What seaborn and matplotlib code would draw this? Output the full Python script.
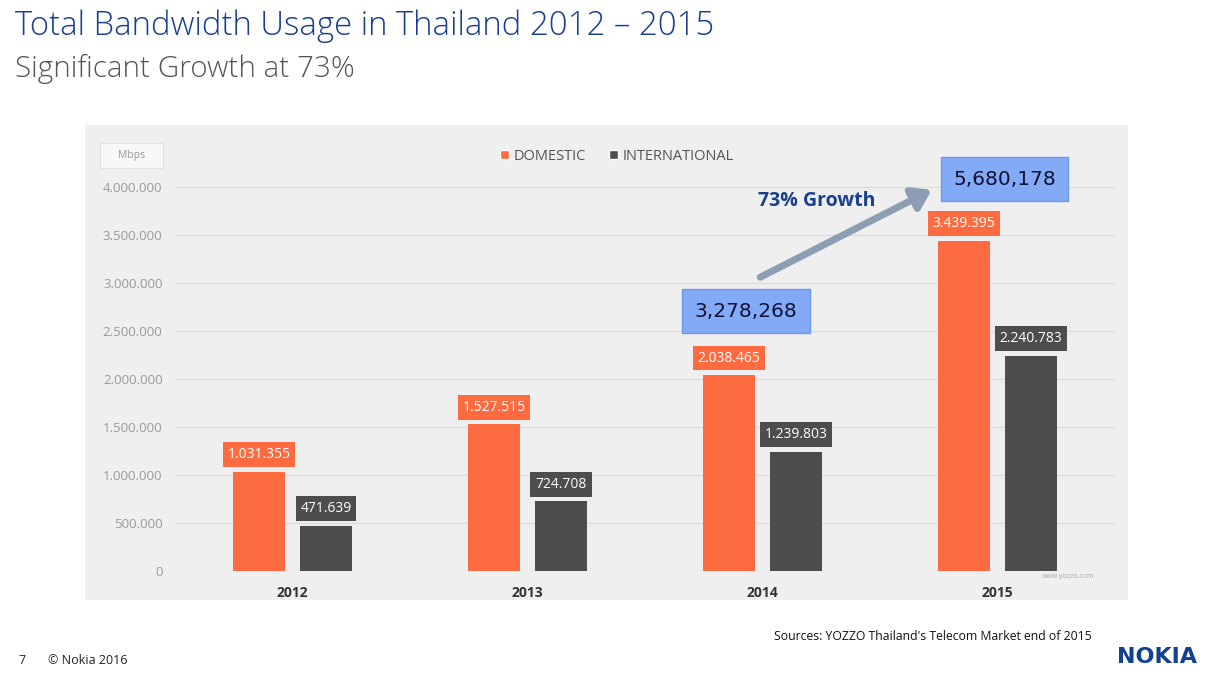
import matplotlib
matplotlib.use("Agg")
import matplotlib.pyplot as plt
import seaborn as sns
import pandas as pd
from matplotlib.patches import Rectangle, Patch
from matplotlib.ticker import FuncFormatter

years = ["2012", "2013", "2014", "2015"]
domestic = [1031355, 1527515, 2038465, 3439395]
international = [471639, 724708, 1239803, 2240783]
series_names = ["DOMESTIC", "INTERNATIONAL"]
y_ticks = [0, 500000, 1000000, 1500000, 2000000, 2500000, 3000000, 3500000, 4000000]
growth_label = "73% Growth"

ORANGE = "#ff6b40"
DARK = "#4d4d4d"
NAVY = "#1a3f8f"

df = pd.DataFrame({
    "year": years * 2,
    "value": domestic + international,
    "type": [series_names[0]] * 4 + [series_names[1]] * 4,
})

sns.set_theme(style="white")
plt.rcParams["font.family"] = ["Open Sans", "DejaVu Sans"]

fig = plt.figure(figsize=(12.14, 6.77), dpi=100)
fig.patch.set_facecolor("white")

# chart panel background
fig.patches.append(Rectangle((85 / 1214, 1 - 600 / 677), (1128 - 85) / 1214, (600 - 125) / 677,
                             transform=fig.transFigure, facecolor="#efefef", edgecolor="none", zorder=-10))
# Mbps box
fig.patches.append(Rectangle((100 / 1214, 1 - 168 / 677), 63 / 1214, 25 / 677,
                             transform=fig.transFigure, facecolor="#f8f8f8", edgecolor="#e2e2e2",
                             lw=0.8, zorder=-5))
fig.text(131.5 / 1214, 1 - 155.5 / 677, "Mbps", ha="center", va="center", fontsize=7.5, color="#999999")

ax = fig.add_axes([175 / 1214, (677 - 571) / 677, 940 / 1214, 431 / 677])
ax.set_facecolor("none")

sns.barplot(data=df, x="year", y="value", hue="type", palette=[ORANGE, DARK],
            width=0.57, gap=0.23, saturation=1, legend=False, ax=ax, zorder=3,
            linewidth=0, edgecolor="none")

ax.set_xlim(-0.5, 3.5)
ax.set_ylim(0, 4.49e6)
ax.set_yticks(y_ticks)
ax.yaxis.set_major_formatter(FuncFormatter(lambda v, p: f"{int(v):,}".replace(",", ".")))
ax.grid(axis="y", color="#dddddd", lw=1, zorder=0)
ax.set_axisbelow(True)
for s in ax.spines.values():
    s.set_visible(False)
ax.tick_params(axis="y", length=0, pad=9, labelsize=9.5, labelcolor="#9a9a9a")
ax.tick_params(axis="x", length=0, pad=11, labelsize=10, labelcolor="#333333")
for t in ax.get_xticklabels():
    t.set_fontweight("bold")
ax.set_xlabel("")
ax.set_ylabel("")

# value labels
for cont, col in zip(ax.containers, [ORANGE, DARK]):
    for bar in cont:
        h = bar.get_height()
        cx = bar.get_x() + bar.get_width() / 2
        ax.annotate(f"{int(h):,}".replace(",", "."), xy=(cx, h), xytext=(0, 7),
                    textcoords="offset points", ha="center", va="bottom",
                    fontsize=10, color="white", zorder=5,
                    bbox=dict(boxstyle="square,pad=0.35", facecolor=col, edgecolor="none"))

# totals boxes
tot14 = domestic[2] + international[2]
tot15 = domestic[3] + international[3]
box = dict(boxstyle="square,pad=0.62", facecolor="#82aaf7", edgecolor="#6f98ea", lw=1)
ax.text(1.93, 2.708e6, f"{tot14:,}", ha="center", va="center", fontsize=14.5,
        color="#111133", bbox=box, zorder=6, family=["DejaVu Sans"])
ax.text(3.03, 4.083e6, f"{tot15:,}", ha="center", va="center", fontsize=14.5,
        color="#111133", bbox=box, zorder=6, family=["DejaVu Sans"])
ax.annotate("", xy=(2.72, 3.97e6), xytext=(1.99, 3.06e6),
            arrowprops=dict(arrowstyle="-|>,head_length=0.9,head_width=0.6", color="#8d9db3",
                            lw=5, shrinkA=0, shrinkB=0), zorder=6)
ax.text(2.23, 3.85e6, growth_label, ha="center", va="center", fontsize=14,
        fontweight="bold", color=NAVY, zorder=6)

# legend
handles = [Patch(facecolor=ORANGE), Patch(facecolor=DARK)]
fig.legend(handles, series_names, loc="center", bbox_to_anchor=(617 / 1214, 1 - 156 / 677),
           ncol=2, frameon=False, handlelength=0.6, handleheight=0.6, handletextpad=0.3,
           columnspacing=1.6, prop={"size": 10.5}, labelcolor="#555555")

# watermark
ax.text(3.3, -0.02e6, "www.yozzo.com", ha="center", va="top", fontsize=5, color="#aaaaaa")

# titles and footer
fig.text(15 / 1214, 1 - 26 / 677, "Total Bandwidth Usage in Thailand 2012 – 2015", ha="left",
         va="center", fontsize=23.7, color=NAVY, fontweight="light")
fig.text(15 / 1214, 1 - 69 / 677, "Significant Growth at 73%", ha="left", va="center",
         fontsize=21.3, color="#555555", fontweight="light")
fig.text(18 / 1214, 1 - 660 / 677, "7", ha="left", va="center", fontsize=9, color="#222222")
fig.text(48 / 1214, 1 - 660 / 677, "© Nokia 2016", ha="left", va="center", fontsize=9, color="#222222")
fig.text(1092 / 1214, 1 - 636 / 677, "Sources: YOZZO Thailand's Telecom Market end of 2015",
         ha="right", va="center", fontsize=8.8, color="#111111")
fig.text(1197 / 1214, 1 - 657 / 677, "NOKIA", ha="right", va="center", fontsize=16,
         fontweight="bold", color="#124191", family=["DejaVu Sans"])

fig.savefig("out.png", dpi=100)
